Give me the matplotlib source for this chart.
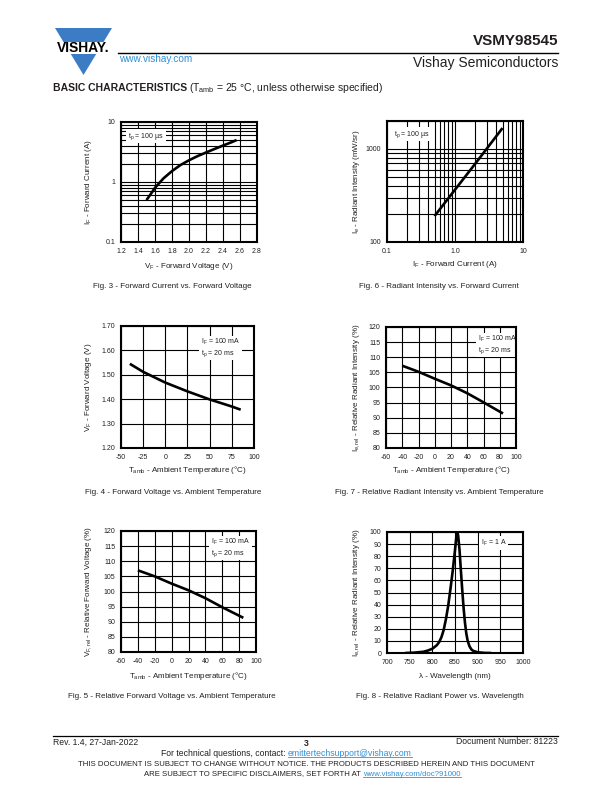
import matplotlib
matplotlib.use('Agg')
import matplotlib.pyplot as plt
from matplotlib.ticker import FixedLocator, FixedFormatter, NullFormatter
from matplotlib.patches import Polygon, Rectangle

plt.rcParams['font.family'] = ['Liberation Sans', 'DejaVu Sans']
plt.rcParams['mathtext.fontset'] = 'custom'
plt.rcParams['mathtext.rm'] = 'Liberation Sans'
plt.rcParams['mathtext.it'] = 'Liberation Sans:italic'
plt.rcParams['mathtext.bf'] = 'Liberation Sans:bold'
plt.rcParams['mathtext.default'] = 'regular'
plt.rcParams['axes.unicode_minus'] = False

# ---------------- data ----------------
fig3_vf = [1.50, 1.55, 1.60, 1.70, 1.80, 1.90, 2.00, 2.10, 2.20, 2.30, 2.40, 2.50, 2.56]
fig3_if = [0.50, 0.63, 0.80, 1.15, 1.52, 1.92, 2.30, 2.70, 3.10, 3.55, 4.05, 4.60, 5.00]
fig3_xticks = [1.2, 1.4, 1.6, 1.8, 2.0, 2.2, 2.4, 2.6, 2.8]
fig3_xlabels = ['1.2', '1.4', '1.6', '1.8', '2.0', '2.2', '2.4', '2.6', '2.8']
fig3_yticks = [0.1, 1, 10]
fig3_ylabels = ['0.1', '1', '10']

fig6_if = [0.5, 1.0, 2.0, 5.0]
fig6_ie = [190, 365, 700, 1680]
fig6_xticks = [0.1, 1.0, 10]
fig6_xlabels = ['0.1', '1.0', '10']
fig6_yticks = [100, 1000]
fig6_ylabels = ['100', '1000']

fig4_t = [-40, -25, 0, 25, 50, 75, 85]
fig4_vf = [1.545, 1.512, 1.468, 1.432, 1.399, 1.370, 1.357]
fig4_xticks = [-50, -25, 0, 25, 50, 75, 100]
fig4_yticks = [1.20, 1.30, 1.40, 1.50, 1.60, 1.70]
fig4_ylabels = ['1.20', '1.30', '1.40', '1.50', '1.60', '1.70']

fig7_t = [-40, -20, 0, 20, 40, 60, 84]
fig7_ie = [107.2, 105.2, 102.9, 100.7, 98.1, 95.1, 91.4]
fig7_xticks = [-60, -40, -20, 0, 20, 40, 60, 80, 100]
fig7_yticks = [80, 85, 90, 95, 100, 105, 110, 115, 120]

fig5_t = [-40, -20, 0, 20, 40, 60, 85]
fig5_vf = [107.0, 105.0, 102.6, 100.4, 97.8, 94.8, 91.3]
fig5_xticks = [-60, -40, -20, 0, 20, 40, 60, 80, 100]
fig5_yticks = [80, 85, 90, 95, 100, 105, 110, 115, 120]

fig8_wl = [740, 760, 780, 790, 800, 810, 815, 820, 825, 830, 835, 840, 845, 850,
           853, 855, 857, 860, 863, 866, 869, 872, 875, 878, 882, 886, 890, 900, 915, 930]
fig8_rel = [0, 0.3, 1.0, 2.0, 3.5, 6.5, 9, 13, 19, 28, 39, 53, 68, 85,
            96, 100, 97, 85, 68, 52, 37, 25, 16, 10, 5.5, 3.0, 1.8, 0.6, 0.1, 0]
fig8_xticks = [700, 750, 800, 850, 900, 950, 1000]
fig8_yticks = [0, 10, 20, 30, 40, 50, 60, 70, 80, 90, 100]

# ---------------- layout ----------------
W, H = 612, 792
TXT = '#231f20'
BLUE = '#3b7cc4'
LINK = '#2f8fd5'

fig = plt.figure(figsize=(W / 100, H / 100), dpi=100)
fig.patch.set_facecolor('white')


def make_axes(box):
    l, t, r, b = box
    return fig.add_axes([l / W, 1 - b / H, (r - l) / W, (b - t) / H])


def style(ax):
    for s in ax.spines.values():
        s.set_linewidth(1.5)
        s.set_color('black')
        s.set_zorder(5)
    ax.tick_params(which='both', length=0, labelsize=5, pad=4, colors=TXT)
    ax.set_axisbelow(True)
    ax.grid(True, which='both', color='black', linewidth=0.8)


def labels(ax, box, xlabel, ylabel, xlab_y, ylab_x):
    l, t, r, b = box
    ax.set_xlabel(xlabel, fontsize=5.8, color=TXT, va='center')
    ax.xaxis.set_label_coords(0.5, (b - xlab_y) / (b - t))
    ax.set_ylabel(ylabel, fontsize=5.8, color=TXT, va='center')
    ax.yaxis.set_label_coords((ylab_x - l) / (r - l), 0.5)


def note(ax, box, x, y, s, ha='left', va='top'):
    l, t, r, b = box
    ax.text((x - l) / (r - l), (b - y) / (b - t), s, transform=ax.transAxes,
            fontsize=5, color=TXT, ha=ha, va=va, linespacing=1.1, zorder=3,
            bbox=dict(facecolor='white', edgecolor='none', pad=1.2))


CURVE = dict(color='black', linewidth=1.9, zorder=4, solid_capstyle='butt')

# Fig 3
b3 = (121, 122, 257, 242)
ax3 = make_axes(b3)
ax3.set_yscale('log')
ax3.plot(fig3_vf, fig3_if, **CURVE)
ax3.set_xlim(1.2, 2.8)
ax3.set_ylim(0.1, 10)
ax3.xaxis.set_major_locator(FixedLocator(fig3_xticks))
ax3.xaxis.set_major_formatter(FixedFormatter(fig3_xlabels))
ax3.yaxis.set_major_locator(FixedLocator(fig3_yticks))
ax3.yaxis.set_major_formatter(FixedFormatter(fig3_ylabels))
ax3.yaxis.set_minor_formatter(NullFormatter())
style(ax3)
labels(ax3, b3, 'V$_F$ - Forward Voltage (V)', 'I$_F$ - Forward Current (A)', 266, 88)
note(ax3, b3, 128, 131, 't$_p$ = 100 \u00b5s')

# Fig 6
b6 = (387, 121, 523, 242)
ax6 = make_axes(b6)
ax6.set_xscale('log')
ax6.set_yscale('log')
ax6.plot(fig6_if, fig6_ie, **CURVE)
ax6.set_xlim(0.1, 10)
ax6.set_ylim(100, 2000)
ax6.xaxis.set_major_locator(FixedLocator(fig6_xticks))
ax6.xaxis.set_major_formatter(FixedFormatter(fig6_xlabels))
ax6.xaxis.set_minor_formatter(NullFormatter())
ax6.yaxis.set_major_locator(FixedLocator(fig6_yticks))
ax6.yaxis.set_major_formatter(FixedFormatter(fig6_ylabels))
ax6.yaxis.set_minor_formatter(NullFormatter())
style(ax6)
labels(ax6, b6, 'I$_F$ - Forward Current (A)', 'I$_e$ - Radiant Intensity (mW/sr)', 264, 357)
note(ax6, b6, 394, 129, 't$_p$ = 100 \u00b5s')

# Fig 4
b4 = (121, 326, 254, 448)
ax4 = make_axes(b4)
ax4.plot(fig4_t, fig4_vf, **CURVE)
ax4.set_xlim(-50, 100)
ax4.set_ylim(1.20, 1.70)
ax4.xaxis.set_major_locator(FixedLocator(fig4_xticks))
ax4.yaxis.set_major_locator(FixedLocator(fig4_yticks))
ax4.yaxis.set_major_formatter(FixedFormatter(fig4_ylabels))
style(ax4)
labels(ax4, b4, 'T$_{amb}$ - Ambient Temperature (\u00b0C)', 'V$_F$ - Forward Voltage (V)', 470, 89)
note(ax4, b4, 201, 337, 'I$_F$ = 100 mA\nt$_p$ = 20 ms')

# Fig 7
b7 = (386, 327, 516, 448)
ax7 = make_axes(b7)
ax7.plot(fig7_t, fig7_ie, **CURVE)
ax7.set_xlim(-60, 100)
ax7.set_ylim(80, 120)
ax7.xaxis.set_major_locator(FixedLocator(fig7_xticks))
ax7.yaxis.set_major_locator(FixedLocator(fig7_yticks))
style(ax7)
labels(ax7, b7, 'T$_{amb}$ - Ambient Temperature (\u00b0C)',
       'I$_{e, rel}$ - Relative Radiant Intensity (%)', 470, 357)
note(ax7, b7, 478, 334, 'I$_F$ = 100 mA\nt$_p$ = 20 ms')

# Fig 5
b5 = (121, 531, 256, 652)
ax5 = make_axes(b5)
ax5.plot(fig5_t, fig5_vf, **CURVE)
ax5.set_xlim(-60, 100)
ax5.set_ylim(80, 120)
ax5.xaxis.set_major_locator(FixedLocator(fig5_xticks))
ax5.yaxis.set_major_locator(FixedLocator(fig5_yticks))
style(ax5)
labels(ax5, b5, 'T$_{amb}$ - Ambient Temperature (\u00b0C)',
       'V$_{F, rel}$ - Relative Forward Voltage (%)', 676, 88)
note(ax5, b5, 211, 537, 'I$_F$ = 100 mA\nt$_p$ = 20 ms')

# Fig 8
b8 = (387, 532, 523, 653)
ax8 = make_axes(b8)
ax8.plot(fig8_wl, fig8_rel, **CURVE)
ax8.set_xlim(700, 1000)
ax8.set_ylim(0, 100)
ax8.xaxis.set_major_locator(FixedLocator(fig8_xticks))
ax8.yaxis.set_major_locator(FixedLocator(fig8_yticks))
style(ax8)
labels(ax8, b8, '\u03bb - Wavelength (nm)',
       'I$_{e, rel}$ - Relative Radiant Intensity (%)', 676, 357)
note(ax8, b8, 481, 538, 'I$_F$ = 1 A')

# ---------------- page decorations ----------------
ov = fig.add_axes([0, 0, 1, 1], zorder=-1)
ov.set_xlim(0, W)
ov.set_ylim(H, 0)
ov.axis('off')

# logo
ov.add_patch(Polygon([(55, 28), (112, 28), (83.5, 75)], closed=True, facecolor=BLUE, edgecolor='none'))
ov.add_patch(Rectangle((50, 41.5), 66, 12.5, facecolor='white', edgecolor='none'))
ov.text(83, 48, 'VISHAY.', fontsize=10, fontweight='bold', color='black', ha='center', va='center')

ov.plot([118, 558], [52.5, 52.5], color='black', linewidth=1.0)
ov.text(558, 41, 'VSMY98545', fontsize=11, fontweight='bold', color=TXT, ha='right', va='center')
ov.text(558, 63, 'Vishay Semiconductors', fontsize=10, color=TXT, ha='right', va='center')
ov.text(119, 58.5, 'www.vishay.com', fontsize=7.2, color=LINK, ha='left', va='center')

t_bc = ov.text(53, 88, 'BASIC CHARACTERISTICS', fontsize=7.5, fontweight='bold', color=TXT,
               ha='left', va='center')

# captions
cap = dict(fontsize=5.8, color=TXT, ha='center', va='center')
ov.text(172, 287, 'Fig. 3 - Forward Current vs. Forward Voltage', **cap)
ov.text(439, 287, 'Fig. 6 - Radiant Intensity vs. Forward Current', **cap)
ov.text(173, 492, 'Fig. 4 - Forward Voltage vs. Ambient Temperature', **cap)
ov.text(439, 492, 'Fig. 7 - Relative Radiant Intensity vs. Ambient Temperature', **cap)
ov.text(172, 697, 'Fig. 5 - Relative Forward Voltage vs. Ambient Temperature', **cap)
ov.text(440, 697, 'Fig. 8 - Relative Radiant Power vs. Wavelength', **cap)

# footer
ov.plot([53, 558], [736, 736], color='black', linewidth=0.9)
ov.text(53, 742, 'Rev. 1.4, 27-Jan-2022', fontsize=6.2, color=TXT, ha='left', va='center')
ov.text(306, 743, '3', fontsize=6.2, fontweight='bold', color=TXT, ha='center', va='center')
ov.text(558, 742, 'Document Number: 81223', fontsize=6.2, color=TXT, ha='right', va='center')
ov.text(288, 753, 'For technical questions, contact: ', fontsize=6.2, color=TXT, ha='right', va='center')
t_l1 = ov.text(288, 753, 'emittertechsupport@vishay.com', fontsize=6.2, color=LINK, ha='left', va='center')
ov.text(306, 765, 'THIS DOCUMENT IS SUBJECT TO CHANGE WITHOUT NOTICE. THE PRODUCTS DESCRIBED HEREIN AND THIS DOCUMENT',
        fontsize=5.6, color=TXT, ha='center', va='center')
ov.text(363, 774, 'ARE SUBJECT TO SPECIFIC DISCLAIMERS, SET FORTH AT ', fontsize=5.6, color=TXT, ha='right', va='center')
t_l2 = ov.text(363, 774, 'www.vishay.com/doc?91000', fontsize=5.6, color=LINK, ha='left', va='center')

fig.canvas.draw()
renderer = fig.canvas.get_renderer()
inv = ov.transData.inverted()


def extent(t):
    bb = t.get_window_extent(renderer)
    (x0, y0), (x1, y1) = inv.transform([(bb.x0, bb.y0), (bb.x1, bb.y1)])
    return x0, x1, y0, y1


x0, x1, y0, y1 = extent(t_bc)
ov.text(x1 + 2, 88, '(T$_{amb}$ = 25 \u00b0C, unless otherwise specified)', fontsize=7.5,
        color=TXT, ha='left', va='center')
for t in (t_l1, t_l2):
    x0, x1, y0, y1 = extent(t)
    ov.plot([x0, x1], [y0 - 0.5, y0 - 0.5], color=LINK, linewidth=0.6)

fig.savefig('out.png', dpi=100, facecolor='white')
